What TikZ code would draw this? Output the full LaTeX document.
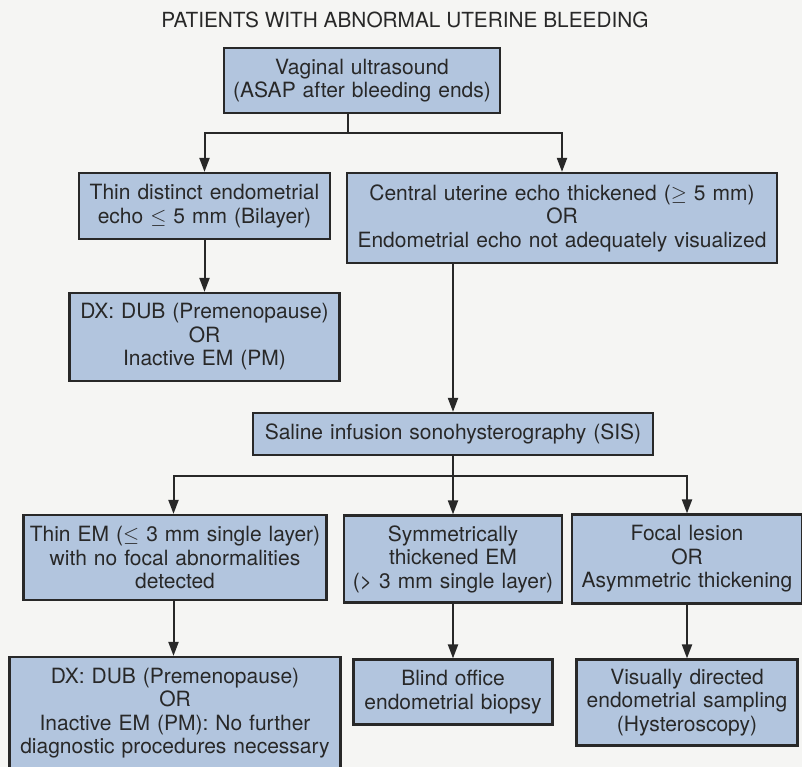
\documentclass[tikz,border=0pt]{standalone}
\usepackage{fontspec}
\setmainfont{TeX Gyre Heros}
\usepackage{tikz}
\usetikzlibrary{positioning,arrows.meta}

\definecolor{boxblue}{RGB}{178,197,222}
\definecolor{ink}{RGB}{40,40,40}
\definecolor{paper}{RGB}{245,245,243}

\tikzset{
  box/.style={draw=ink, fill=boxblue, line width=2.2pt, align=center,
    inner xsep=2pt, inner ysep=0pt, text=ink,
    font=\fontsize{21}{23.5}\selectfont},
  flow/.style={draw=ink, line width=2pt, -{Triangle[length=14pt,width=10pt]}},
  link/.style={draw=ink, line width=2pt},
}

\begin{document}
\begin{tikzpicture}[node distance=4cm, on grid, x=1pt, y=1pt]
	\fill[paper] (0,0) rectangle (802,-767);
	\useasboundingbox (0,0) rectangle (802,-767);

	\node[text=ink, font=\fontsize{20.8}{23.5}\selectfont] (title) at (405,-20) {PATIENTS WITH ABNORMAL UTERINE BLEEDING};

	% first level
	\node[box, text width=272pt, minimum height=65pt] (us) [below left=60.5pt and 43pt of title] {Vaginal ultrasound\\(ASAP after bleeding ends)};
	\node[box, text width=247pt, minimum height=66pt] (thin) [below left=125.5pt and 157.5pt of us] {Thin distinct endometrial\\echo $\le$ 5 mm (Bilayer)};
	\node[box, text width=426pt, minimum height=90pt] (thick) [below right=137.5pt and 200pt of us] {Central uterine echo thickened ($\ge$ 5 mm)\\OR\\Endometrial echo not adequately visualized};
	\node[box, text width=266pt, minimum height=88pt] (dxa) [below=131pt of thin] {DX: DUB (Premenopause)\\OR\\Inactive EM (PM)};
	\node[box, text width=396pt, minimum height=42pt] (sis) [below left=216pt and 109pt of thick] {Saline infusion sonohysterography (SIS)};

	% after SIS
	\node[box, text width=299pt, minimum height=85pt] (thinem) [below left=123.5pt and 278pt of sis] {Thin EM ($\le$ 3 mm single layer)\\with no focal abnormalities\\detected};
	\node[box, text width=214pt, minimum height=87pt] (sym) [below=125pt of sis] {Symmetrically\\thickened EM\\(> 3 mm single layer)};
	\node[box, text width=226pt, minimum height=89pt] (focal) [below right=125pt and 234pt of sis] {Focal lesion\\OR\\Asymmetric thickening};
	\node[box, text width=327pt, minimum height=112pt] (dxb) [below=155.5pt of thinem] {DX: DUB (Premenopause)\\OR\\Inactive EM (PM): No further\\diagnostic procedures necessary};
	\node[box, text width=195pt, minimum height=65pt] (blind) [below=133pt of sym] {Blind office\\endometrial biopsy};
	\node[box, text width=217pt, minimum height=86pt] (visual) [below=143.5pt of focal] {Visually directed\\endometrial sampling\\(Hysteroscopy)};

	% connectors
	\coordinate (fork1) at ([xshift=-14pt,yshift=-19pt]us.south);
	\coordinate (fork2) at ([yshift=-20pt]sis.south);
	\path[link] (fork1 |- us.south) -- (fork1);
	\path[flow] (fork1) -| (thin.north);
	\path[flow] (fork1) -| (thick.north);
	\path[flow] (thin) -- (dxa);
	\path[flow] (thick.south -| sis.north) -- (sis);
	\path[link] (sis) -- (fork2);
	\path[flow] (fork2) -| ([xshift=-1.5pt]thinem.north);
	\path[flow] (fork2) -- (sym);
	\path[flow] (fork2) -| (focal.north);
	\path[flow] ([xshift=-1.5pt]thinem.south) -- ([xshift=-1.5pt]thinem.south |- dxb.north);
	\path[flow] (sym) -- (blind);
	\path[flow] (focal) -- (visual);
\end{tikzpicture}
\end{document}
